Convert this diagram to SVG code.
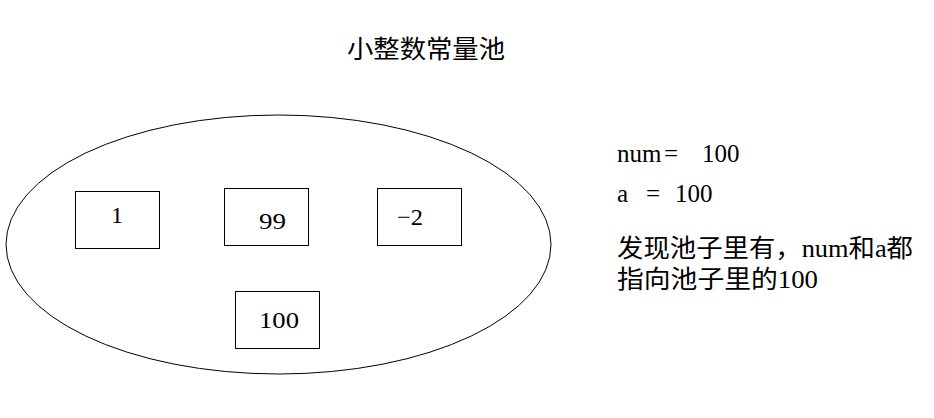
<svg xmlns="http://www.w3.org/2000/svg" width="934" height="418" viewBox="0 0 934 418">
<style>
.box{fill:#fff;stroke:#000;stroke-width:1}
.num{font-family:"Liberation Serif","Noto Sans CJK SC",serif;font-size:24px;fill:#000}
.cjk{font-family:"Liberation Serif","Noto Sans CJK SC",serif;font-size:25px;fill:#000}
</style>
<rect width="934" height="418" fill="#fff"/>
<text class="cjk" x="347" y="58" font-size="25" textLength="158" lengthAdjust="spacingAndGlyphs">小整数常量池</text>
<g id="pool">
<ellipse cx="278.5" cy="244.5" rx="272.5" ry="129.5" fill="#fff" stroke="#000" stroke-width="1"/>
</g>
<g id="node-1"><rect class="box" x="75.5" y="191.5" width="84" height="57"/><text class="num" x="111" y="223" textLength="12" lengthAdjust="spacingAndGlyphs">1</text></g>
<g id="node-99"><rect class="box" x="224.5" y="188.5" width="84" height="57"/><text class="num" x="259" y="229" textLength="27" lengthAdjust="spacingAndGlyphs">99</text></g>
<g id="node-m2"><rect class="box" x="377.5" y="188.5" width="84" height="57"/><text class="num" x="397" y="225" textLength="26" lengthAdjust="spacingAndGlyphs">−2</text></g>
<g id="node-100"><rect class="box" x="235.5" y="291.5" width="84" height="57"/><text class="num" x="259" y="328" textLength="40" lengthAdjust="spacingAndGlyphs">100</text></g>
<g id="connectors"></g>
<g id="notes">
<text class="cjk" y="162"><tspan x="617">num</tspan><tspan x="664">=</tspan><tspan x="702">100</tspan></text>
<text class="cjk" y="202"><tspan x="617">a</tspan><tspan x="646">=</tspan><tspan x="675">100</tspan></text>
<text class="cjk" x="617" y="257" textLength="296" lengthAdjust="spacingAndGlyphs">发现池子里有，num和a都</text>
<text class="cjk" x="617" y="288" textLength="201" lengthAdjust="spacingAndGlyphs">指向池子里的100</text>
</g>
</svg>
